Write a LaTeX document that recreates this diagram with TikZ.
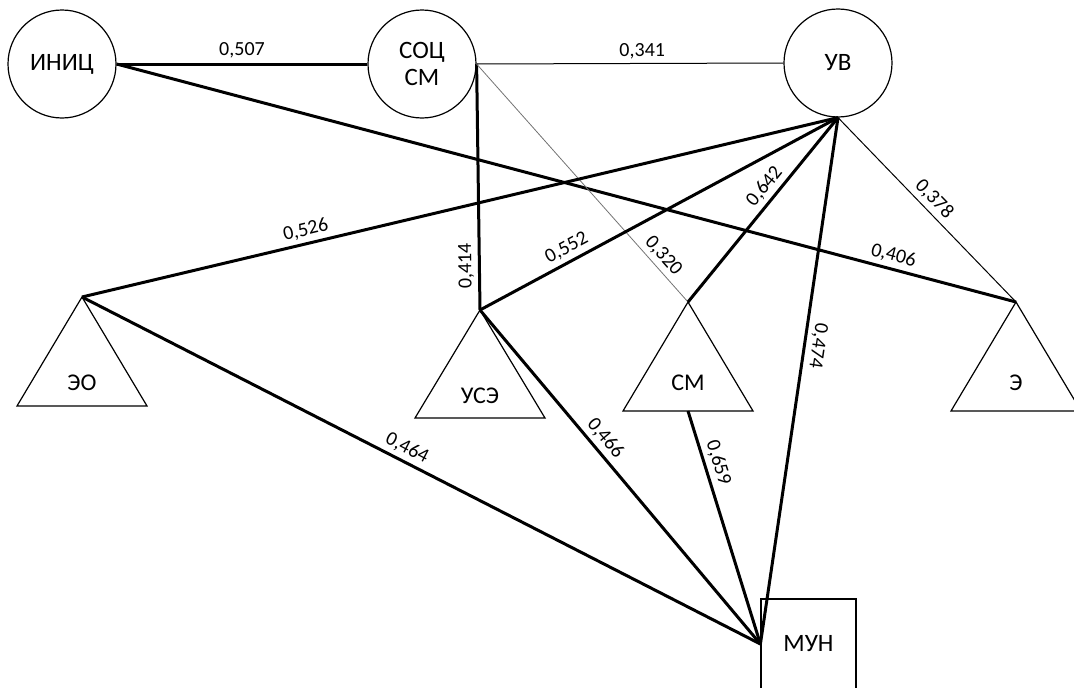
\documentclass[tikz,border=0pt]{standalone}
\usepackage{fontspec}
\setmainfont{Carlito}
\begin{document}
\begin{tikzpicture}[x=1pt,y=-1pt,
  factor/.style={circle,draw,line width=1.2pt,minimum size=108pt,inner sep=0pt,font=\fontsize{25}{27}\selectfont,align=center},
  outcome/.style={rectangle,draw,line width=1.2pt,minimum width=95pt,minimum height=90pt,inner sep=0pt,font=\fontsize{25}{27}\selectfont},
  tri/.style={draw,line width=1.2pt,line join=miter},
  trilabel/.style={font=\fontsize{24}{26}\selectfont,inner sep=0pt},
  strong/.style={line width=3pt},
  weak/.style={line width=1pt},
  faint/.style={line width=0.8pt,black!55},
  w/.style={font=\fontsize{20}{22}\selectfont,inner sep=1pt,sloped,above=3pt}]
\useasboundingbox (0,0) rectangle (1074,688);

% circular factors
\node[factor] (inic) at (62,64) {ИНИЦ};
\node[factor] (soc) at (422,64) {СОЦ\\[0pt]СМ};
\node[factor] (uv) at (838,63) {УВ};

% triangular groups: apex coordinates and labels
\coordinate (eo) at (82,297);
\coordinate (use) at (480,310);
\coordinate (sm) at (688,302);
\coordinate (e) at (1016,302);
\draw[tri] (eo) -- ++(-65,109) -- ++(130,0) -- cycle;
\draw[tri] (use) -- ++(-65,108) -- ++(130,0) -- cycle;
\draw[tri] (sm) -- ++(-65,109) -- ++(130,0) -- cycle;
\draw[tri] (e) -- ++(-65,109) -- ++(130,0) -- cycle;
\coordinate (smbase) at (688,411);
\node[trilabel] (eolab) at (82,383) {ЭО};
\node[trilabel] (uselab) at (480,396) {УСЭ};
\node[trilabel] (smlab) at (688,383) {СМ};
\node[trilabel] (elab) at (1016,383) {Э};

% outcome box
\node[outcome] (mun) at (808.5,644) {МУН};

% weighted links
\draw[strong] (inic.east) -- node[w,pos=0.5] {0,507} (soc.west);
\draw[weak] (soc.east) -- node[w,pos=0.54] {0,341} (uv.west);
\draw[strong] (inic.east) -- node[w,pos=0.86] {0,406} (e);
\draw[strong] (use) -- node[w,pos=0.18,allow upside down] {0,414} (soc.east);
\draw[faint] (soc.east) -- node[w,pos=0.84,text=black] {0,320} (sm);
\draw[strong] (eo) -- node[w,pos=0.3] {0,526} (uv.south);
\draw[strong] (use) -- node[w,pos=0.26] {0,552} (uv.south);
\draw[strong] (sm) -- node[w,pos=0.58] {0,642} (uv.south);
\draw[weak] (uv.south) -- node[w,pos=0.49] {0,378} (e);
\draw[strong] (uv.south) -- node[w,pos=0.43,allow upside down] {0,474} (mun.west);
\draw[strong] (eo) -- node[w,pos=0.47] {0,464} (mun.west);
\draw[strong] (use) -- node[w,pos=0.41] {0,466} (mun.west);
\draw[strong] (smbase) -- node[w,pos=0.24] {0,659} (mun.west);
\end{tikzpicture}
\end{document}
